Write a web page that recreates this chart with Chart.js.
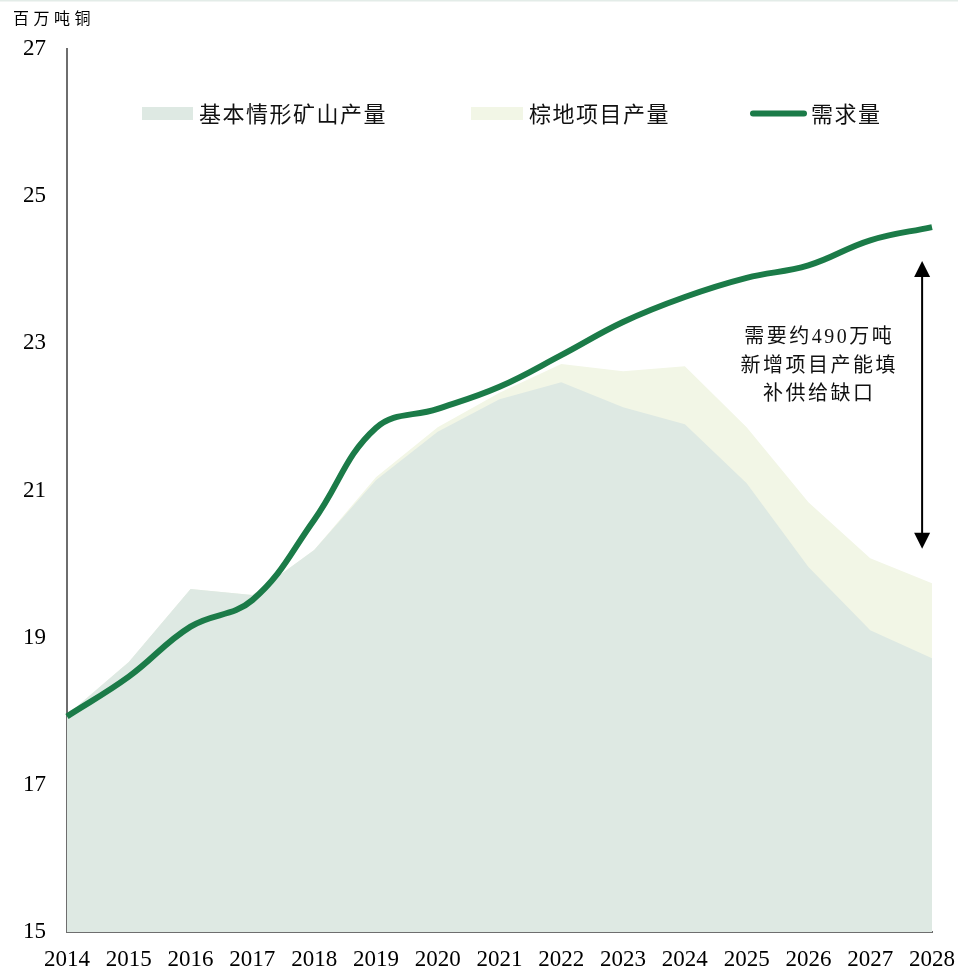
<!DOCTYPE html>
<html>
<head>
<meta charset="utf-8">
<script src="https://cdn.jsdelivr.net/npm/chart.js@4.4.1/dist/chart.umd.min.js"></script>
<style>
  html, body { margin: 0; padding: 0; background: #ffffff; }
  #wrap { width: 958px; height: 971px; position: relative; }
</style>
</head>
<body>
<div id="wrap"><canvas id="c" width="958" height="971"></canvas></div>
<script>
// ---- data ----
const years = ['2014','2015','2016','2017','2018','2019','2020','2021','2022','2023','2024','2025','2026','2027','2028'];
const baseCase = [17.95, 18.67, 19.66, 19.58, 20.19, 21.14, 21.80, 22.24, 22.47, 22.13, 21.90, 21.10, 19.96, 19.10, 18.72];
const withGreenfield = [17.95, 18.67, 19.66, 19.58, 20.19, 21.18, 21.86, 22.33, 22.72, 22.62, 22.69, 21.86, 20.84, 20.08, 19.74];
const demand = [17.93, 18.47, 19.15, 19.51, 20.60, 21.85, 22.11, 22.41, 22.84, 23.29, 23.63, 23.89, 24.06, 24.40, 24.58];
const yTicks = [15, 17, 19, 21, 23, 25, 27];
const seriesNames = ['基本情形矿山产量', '棕地项目产量', '需求量'];
const unitLabel = '百万吨铜';
const noteLines = ['需要约490万吨', '新增项目产能填', '补供给缺口'];
const gapTop = 24.12, gapBottom = 20.21, gapX = 13.84;
const noteX = 12.15, noteY = [23.07, 22.68, 22.30];

const C_BASE = '#dee9e3';
const C_GREEN = '#f2f6e6';
const C_LINE = '#1b7b48';
const SERIF = '"Liberation Serif", "Noto Sans CJK SC", serif';
const CJK = '"Noto Sans CJK SC", "Liberation Serif", sans-serif';

const decor = {
  id: 'decor',
  afterDraw(chart) {
    const ctx = chart.ctx;
    const x = chart.scales.x, y = chart.scales.y;
    ctx.save();
    // top hairline
    ctx.fillStyle = '#e3ece8';
    ctx.fillRect(0, 0, 958, 1.5);
    // unit label
    ctx.fillStyle = '#000';
    ctx.font = '16px ' + CJK;
    ctx.letterSpacing = '4.5px';
    ctx.textAlign = 'left';
    ctx.textBaseline = 'middle';
    ctx.fillText(unitLabel, 13, 18);

    // legend
    ctx.font = '22px ' + CJK;
    ctx.letterSpacing = '1.5px';
    ctx.fillStyle = C_BASE;
    ctx.fillRect(142, 107, 51, 13);
    ctx.fillStyle = C_GREEN;
    ctx.fillRect(471, 107, 52, 13);
    ctx.strokeStyle = C_LINE;
    ctx.lineWidth = 6;
    ctx.lineCap = 'round';
    ctx.beginPath();
    ctx.moveTo(753, 113.5);
    ctx.lineTo(804, 113.5);
    ctx.stroke();
    ctx.fillStyle = '#111';
    ctx.fillText(seriesNames[0], 199, 114);
    ctx.fillText(seriesNames[1], 529, 114);
    ctx.fillText(seriesNames[2], 811, 114);

    // gap arrow
    const ax = x.getPixelForValue(gapX);
    const y1 = y.getPixelForValue(gapTop);
    const y2 = y.getPixelForValue(gapBottom);
    ctx.strokeStyle = '#000';
    ctx.fillStyle = '#000';
    ctx.lineWidth = 2;
    ctx.lineCap = 'butt';
    ctx.beginPath();
    ctx.moveTo(ax, y1 + 14);
    ctx.lineTo(ax, y2 - 14);
    ctx.stroke();
    ctx.beginPath();
    ctx.moveTo(ax, y1);
    ctx.lineTo(ax - 8, y1 + 16);
    ctx.lineTo(ax + 8, y1 + 16);
    ctx.closePath();
    ctx.fill();
    ctx.beginPath();
    ctx.moveTo(ax, y2);
    ctx.lineTo(ax - 8, y2 - 16);
    ctx.lineTo(ax + 8, y2 - 16);
    ctx.closePath();
    ctx.fill();

    // note text
    ctx.font = '20px ' + SERIF;
    ctx.letterSpacing = '2.5px';
    ctx.textAlign = 'center';
    ctx.fillStyle = '#111';
    const nx = x.getPixelForValue(noteX);
    noteLines.forEach((t, i) => {
      ctx.fillText(t, nx + 1.5, y.getPixelForValue(noteY[i]));
    });
    ctx.restore();
  }
};

new Chart(document.getElementById('c'), {
  type: 'line',
  data: {
    labels: years,
    datasets: [
      {
        label: seriesNames[2],
        data: demand,
        borderColor: C_LINE,
        borderWidth: 6,
        tension: 0.4,
        pointRadius: 0,
        fill: false
      },
      {
        label: seriesNames[0],
        data: baseCase,
        borderWidth: 0,
        borderColor: 'rgba(0,0,0,0)',
        backgroundColor: C_BASE,
        tension: 0,
        pointRadius: 0,
        fill: 'start'
      },
      {
        label: seriesNames[1],
        data: withGreenfield,
        borderWidth: 0,
        borderColor: 'rgba(0,0,0,0)',
        backgroundColor: C_GREEN,
        tension: 0,
        pointRadius: 0,
        fill: 'start'
      }
    ]
  },
  options: {
    responsive: false,
    animation: false,
    devicePixelRatio: 1,
    layout: { padding: { top: 49, right: 0, left: 0, bottom: 0 } },
    plugins: {
      legend: { display: false },
      tooltip: { enabled: false },
      title: { display: false }
    },
    scales: {
      x: {
        type: 'category',
        offset: false,
        grid: { display: false, drawTicks: false },
        border: { display: true, color: '#6e6e6e', width: 2 },
        ticks: {
          color: '#000',
          font: { family: SERIF, size: 23 },
          padding: 14,
          maxRotation: 0,
          autoSkip: false
        },
        afterFit(s) { s.height = 39; s.paddingLeft = 0; s.paddingRight = 26; }
      },
      y: {
        min: 15,
        max: 27,
        afterBuildTicks(s) { s.ticks = yTicks.map(v => ({ value: v })); },
        grid: { display: false, drawTicks: false },
        border: { display: true, color: '#6e6e6e', width: 2 },
        ticks: {
          color: '#000',
          font: { family: SERIF, size: 23 },
          padding: 21
        },
        afterFit(s) { s.width = 67; }
      }
    }
  },
  plugins: [decor]
});
</script>
</body>
</html>
